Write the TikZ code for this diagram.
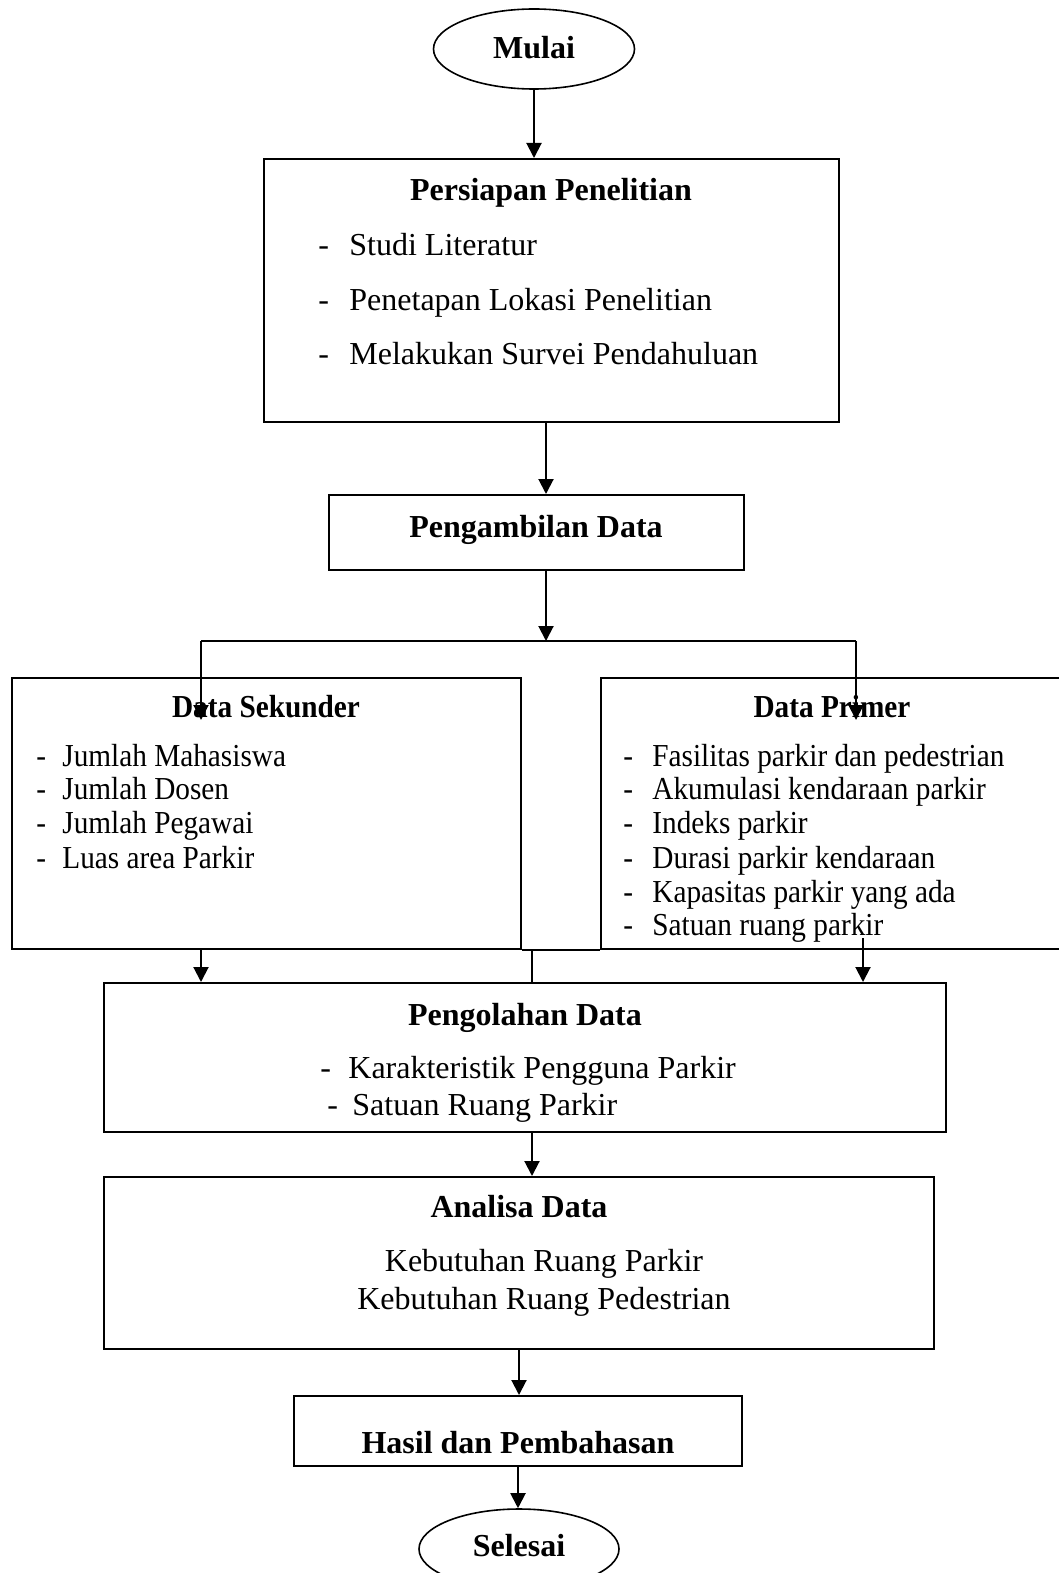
\documentclass[tikz,border=0pt]{standalone}
\usepackage{fontspec}
\setmainfont{Liberation Serif}
\newfontfamily\condfont[FakeStretch=0.915]{Liberation Serif}
\usetikzlibrary{arrows.meta,shapes.geometric}
\begin{document}
\begin{tikzpicture}[x=0.5pt,y=-0.5pt,
  box/.style={draw,line width=1pt,inner sep=0pt},
  oval/.style={ellipse,draw,line width=0.8pt,inner sep=0pt,font=\bfseries\fontsize{16}{19}\selectfont},
  ttl/.style={inner sep=0pt,yshift=-1.5pt,text height=11pt,text depth=3.5pt,font=\bfseries\fontsize{16}{19}\selectfont},
  itm/.style={inner sep=0pt,yshift=-1.5pt,anchor=west,text height=11pt,text depth=3.5pt,font=\fontsize{16}{19}\selectfont},
  ctr/.style={inner sep=0pt,yshift=-1.5pt,text height=11pt,text depth=3.5pt,font=\fontsize{16}{19}\selectfont},
  cttl/.style={ttl,font=\condfont\bfseries\fontsize{16}{19}\selectfont},
  citm/.style={itm,font=\condfont\fontsize{16}{19}\selectfont},
  arr/.style={line width=1pt,-{Triangle[length=7.5pt,width=7.5pt]}},
  ln/.style={line width=1pt}]
\useasboundingbox (0,0) rectangle (1059,1573);
\clip (0,0) rectangle (1059,1573);

% Start
\node[oval,minimum width=100.5pt,minimum height=40pt] (mulai) at (534,49) {};
\node[ttl] (tmulai) at (534,48) {Mulai};

% Persiapan
\node[box,minimum width=287.5pt,minimum height=131.5pt] (prep) at (551.5,290.5) {};
\node[ttl] (tprep) at (551,190) {Persiapan Penelitian};
\node[itm] (p1d) at (318,245) {-};
\node[itm] (p1) at (349,245) {Studi Literatur};
\node[itm] (p2d) at (318,300) {-};
\node[itm] (p2) at (349,300) {Penetapan Lokasi Penelitian};
\node[itm] (p3d) at (318,354) {-};
\node[itm] (p3) at (349,354) {Melakukan Survei Pendahuluan};

% Pengambilan
\node[box,minimum width=207.5pt,minimum height=37.5pt] (peng) at (536.5,532.5) {};
\node[ttl] (tpeng) at (536,527) {Pengambilan Data};

% Data Sekunder
\node[box,minimum width=254.5pt,minimum height=135.5pt] (sek) at (266.5,813.5) {};
\node[cttl] (tsek) at (266,707) {Data Sekunder};
\node[citm] (s1d) at (36,756) {-};
\node[citm] (s1) at (62,756) {Jumlah Mahasiswa};
\node[citm] (s2d) at (36,789) {-};
\node[citm] (s2) at (62,789) {Jumlah Dosen};
\node[citm] (s3d) at (36,823) {-};
\node[citm] (s3) at (62,823) {Jumlah Pegawai};
\node[citm] (s4d) at (36,858) {-};
\node[citm] (s4) at (62,858) {Luas area Parkir};

% Data Primer
\node[box,minimum width=234.5pt,minimum height=135.5pt] (pri) at (835.5,813.5) {};
\node[cttl] (tpri) at (832,707) {Data Primer};
\node[citm] (r1d) at (623,756) {-};
\node[citm] (r1) at (652,756) {Fasilitas parkir dan pedestrian};
\node[citm] (r2d) at (623,789) {-};
\node[citm] (r2) at (652,789) {Akumulasi kendaraan parkir};
\node[citm] (r3d) at (623,823) {-};
\node[citm] (r3) at (652,823) {Indeks parkir};
\node[citm] (r4d) at (623,858) {-};
\node[citm] (r4) at (652,858) {Durasi parkir kendaraan};
\node[citm] (r5d) at (623,892) {-};
\node[citm] (r5) at (652,892) {Kapasitas parkir yang ada};
\node[citm] (r6d) at (623,925) {-};
\node[citm] (r6) at (652,925) {Satuan ruang parkir};

% Pengolahan
\node[box,minimum width=421pt,minimum height=74.5pt] (olah) at (525,1057.5) {};
\node[ttl] (tolah) at (525,1015) {Pengolahan Data};
\node[itm] (o1d) at (320,1068) {-};
\node[itm] (o1) at (348,1068) {Karakteristik Pengguna Parkir};
\node[itm] (o2d) at (327,1105) {-};
\node[itm] (o2) at (352,1105) {Satuan Ruang Parkir};

% Analisa
\node[box,minimum width=415pt,minimum height=86pt] (anal) at (519,1263) {};
\node[ttl] (tanal) at (519,1207) {Analisa Data};
\node[ctr] (a1) at (544,1261) {Kebutuhan Ruang Parkir};
\node[ctr] (a2) at (544,1299) {Kebutuhan Ruang Pedestrian};

% Hasil
\node[box,minimum width=224pt,minimum height=35pt] (hasil) at (518,1431) {};
\node[ttl] (thasil) at (518,1443) {Hasil dan Pembahasan};

% End
\node[oval,minimum width=100pt,minimum height=40pt] (selesai) at (519,1549) {};
\node[ttl] (tsel) at (519,1546) {Selesai};

% Connectors
\draw[arr] (mulai.south) -- (mulai.south |- prep.north);
\coordinate (xa) at (546,641);
\draw[arr] (prep.south -| xa) -- (xa |- peng.north);
\draw[arr] (peng.south -| xa) -- (xa);
\coordinate (bl) at (201,641);
\coordinate (brr) at (856,641);
\draw[ln] (bl) -- (brr);
\coordinate (tl) at (201,720);
\coordinate (tr) at (856,720);
\draw[arr] (bl) -- (tl);
\draw[arr] (brr) -- (tr);

\draw[ln] (sek.south east) -- (pri.south west);
\coordinate (d1) at (201,949);
\coordinate (d2) at (532,949);
\coordinate (d3) at (863,938);
\draw[arr] (d1) -- (d1 |- olah.north);
\draw[ln] (d2) -- (d2 |- olah.north);
\draw[arr] (d3) -- (d3 |- olah.north);

\coordinate (e1) at (532,1132);
\draw[arr] (olah.south -| e1) -- (e1 |- anal.north);
\draw[arr] (anal.south) -- (anal.south |- hasil.north);
\draw[arr] (hasil.south) -- (hasil.south |- selesai.north);
\end{tikzpicture}
\end{document}
